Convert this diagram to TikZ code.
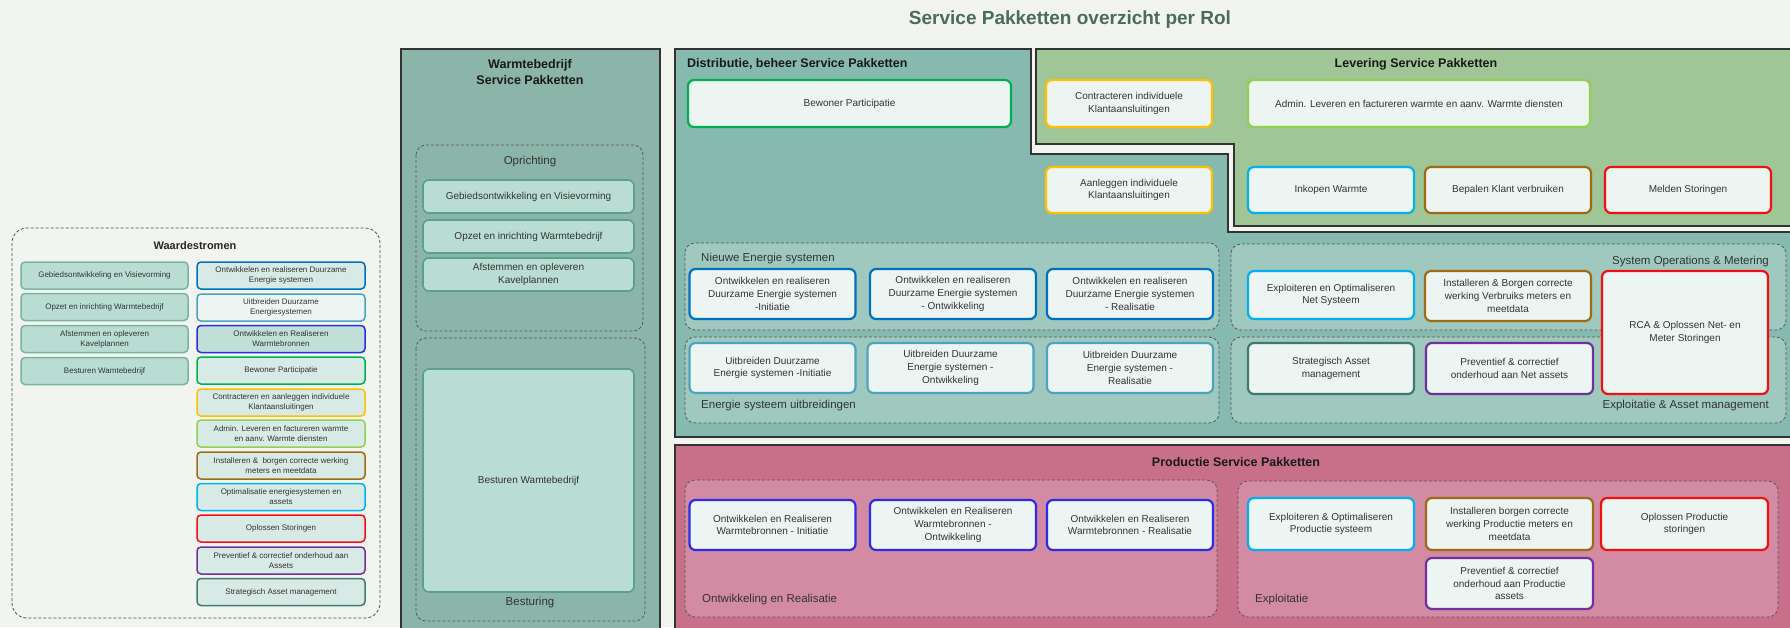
\documentclass[tikz,border=0pt]{standalone}
\usepackage{fontspec}
\setmainfont{Liberation Sans}

\definecolor{achtergrond}{HTML}{F2F5EF}
\definecolor{warmte}{HTML}{8CB5A9}
\definecolor{distr}{HTML}{87BAAF}
\definecolor{distrgroep}{HTML}{9FC9BF}
\definecolor{levering}{HTML}{A0C596}
\definecolor{productie}{HTML}{C8708B}
\definecolor{prodgroep}{HTML}{D38AA3}
\definecolor{boxwit}{HTML}{EDF5F3}
\definecolor{mint}{HTML}{BADDD3}
\definecolor{mintrand}{HTML}{5AA08A}
\definecolor{lichtmint}{HTML}{D8EAE5}
\definecolor{tekst}{HTML}{333333}
\definecolor{titelkleur}{HTML}{4B6A62}
\definecolor{cBlauw}{HTML}{0070C0}
\definecolor{cTeal}{HTML}{4BA3BE}
\definecolor{cViolet}{HTML}{2B2BE8}
\definecolor{cGroen}{HTML}{00B050}
\definecolor{cGeel}{HTML}{FFC000}
\definecolor{cLime}{HTML}{92D050}
\definecolor{cBruin}{HTML}{9E6B14}
\definecolor{cCyaan}{HTML}{00B0F0}
\definecolor{cRood}{HTML}{F01010}
\definecolor{cPaars}{HTML}{7030A0}
\definecolor{cDonker}{HTML}{3F7A6E}

\begin{document}
\begin{tikzpicture}[x=1pt,y=-1pt,
    pakket/.style={draw, line width=2.2pt, rounded corners=6pt, fill=boxwit, text=tekst,
      align=center, inner sep=1pt, minimum width=166pt, minimum height=48pt,
      font=\fontsize{10}{12.8}\selectfont},
    waarde/.style={draw, line width=1.5pt, rounded corners=4pt, fill=lichtmint, text=tekst,
      align=center, inner sep=1pt, minimum width=168pt, minimum height=27pt,
      font=\fontsize{8}{10}\selectfont},
    groep/.style={draw=black!65, dashed, dash pattern=on 3pt off 2pt, line width=0.8pt,
      rounded corners=10pt},
    rol/.style={draw=black!80, line width=1.5pt},
    groeplabel/.style={text=tekst, inner sep=0pt, font=\fontsize{11.5}{13}\selectfont},
    roltitel/.style={text=black!90, inner sep=0pt, align=center,
      font=\fontsize{12.5}{16}\selectfont\bfseries}]

  \path[use as bounding box, fill=achtergrond] (0,0) rectangle (1790,627);

  \node[text=titelkleur, font=\fontsize{19}{22}\selectfont\bfseries] (titel) at (1070,20)
    {Service Pakketten overzicht per Rol};

  % Waardestromen
  \draw[groep, draw=black!70, rounded corners=15pt] (12,228) rectangle (380,618);
  \node[font=\fontsize{11}{13}\selectfont\bfseries, text=black!85] (ws-titel) at (195,246) {Waardestromen};

  \node[waarde, fill=mint, draw=mintrand!80, minimum width=167pt] (ws-l1) at (104.5,275.5) {Gebiedsontwikkeling en Visievorming};
  \node[waarde, fill=mint, draw=mintrand!80, minimum width=167pt] (ws-l2) at (104.5,307) {Opzet en inrichting Warmtebedrijf};
  \node[waarde, fill=mint, draw=mintrand!80, minimum width=167pt] (ws-l3) at (104.5,339) {Afstemmen en opleveren\\Kavelplannen};
  \node[waarde, fill=mint, draw=mintrand!80, minimum width=167pt] (ws-l4) at (104.5,371) {Besturen Wamtebedrijf};

  \node[waarde, draw=cBlauw] (ws-r1) at (281,275.5) {Ontwikkelen en realiseren Duurzame\\Energie systemen};
  \node[waarde, draw=cTeal, fill=boxwit] (ws-r2) at (281,307.5) {Uitbreiden Duurzame\\Energiesystemen};
  \node[waarde, draw=cViolet, fill=mint!80!lichtmint] (ws-r3) at (281,339) {Ontwikkelen en Realiseren\\Warmtebronnen};
  \node[waarde, draw=cGroen] (ws-r4) at (281,370.5) {Bewoner Participatie};
  \node[waarde, draw=cGeel] (ws-r5) at (281,402.5) {Contracteren en aanleggen individuele\\Klantaansluitingen};
  \node[waarde, draw=cLime] (ws-r6) at (281,433.5) {Admin. Leveren en factureren warmte\\en aanv. Warmte diensten};
  \node[waarde, draw=cBruin] (ws-r7) at (281,465.5) {Installeren \&\ \ borgen correcte werking\\meters en meetdata};
  \node[waarde, draw=cCyaan] (ws-r8) at (281,497) {Optimalisatie energiesystemen en\\assets};
  \node[waarde, draw=cRood] (ws-r9) at (281,528.5) {Oplossen Storingen};
  \node[waarde, draw=cPaars] (ws-r10) at (281,560.5) {Preventief \& correctief onderhoud aan\\Assets};
  \node[waarde, draw=cDonker] (ws-r11) at (281,592) {Strategisch Asset management};

  % Warmtebedrijf
  \draw[rol, fill=warmte] (401,49) rectangle (660,632);
  \node[roltitel] (t-warmte) at (530,72) {Warmtebedrijf\\Service Pakketten};
  \draw[groep] (416,145) rectangle (643,331);
  \node[groeplabel] (lbl-opr) at (530,162) {Oprichting};
  \node[pakket, fill=mint, draw=mintrand, line width=1.6pt, minimum width=211pt, minimum height=33pt] (wb-1) at (528.5,196.5) {Gebiedsontwikkeling en Visievorming};
  \node[pakket, fill=mint, draw=mintrand, line width=1.6pt, minimum width=211pt, minimum height=33pt] (wb-2) at (528.5,236.5) {Opzet en inrichting Warmtebedrijf};
  \node[pakket, fill=mint, draw=mintrand, line width=1.6pt, minimum width=211pt, minimum height=33pt] (wb-3) at (528.5,274.5) {Afstemmen en opleveren\\Kavelplannen};
  \draw[groep] (416,338) rectangle (645,621);
  \node[pakket, fill=mint, draw=mintrand, line width=1.6pt, minimum width=211pt, minimum height=223pt] (wb-4) at (528.5,480.5) {Besturen Wamtebedrijf};
  \node[groeplabel] (lbl-best) at (530,603) {Besturing};

  % Distributie, beheer
  \draw[rol, fill=distr] (675,49) -- (1031,49) -- (1031,154) -- (1228,154) -- (1228,232)
    -- (1795,232) -- (1795,437) -- (675,437) -- cycle;
  \node[roltitel, anchor=west] (t-distr) at (687,64) {Distributie, beheer Service Pakketten};

  % Levering
  \draw[rol, fill=levering] (1036,49) -- (1795,49) -- (1795,226) -- (1234,226) -- (1234,144)
    -- (1036,144) -- cycle;
  \node[roltitel] (t-lev) at (1416,64) {Levering Service Pakketten};

  \node[pakket, draw=cGroen, minimum width=323pt, minimum height=47pt] (bewoner) at (849.5,103.5) {Bewoner Participatie};
  \node[pakket, draw=cGeel, minimum height=47pt] (contract) at (1129,103.5) {Contracteren individuele\\Klantaansluitingen};
  \node[pakket, draw=cGeel, minimum height=46pt] (aanleg) at (1129,190) {Aanleggen individuele\\Klantaansluitingen};
  \node[pakket, draw=cLime, minimum width=342pt, minimum height=47pt] (admin) at (1419,103.5) {Admin. Leveren en factureren warmte en aanv. Warmte diensten};
  \node[pakket, draw=cCyaan, minimum height=46pt] (inkopen) at (1331,190) {Inkopen Warmte};
  \node[pakket, draw=cBruin, minimum height=46pt] (bepalen) at (1508,190) {Bepalen Klant verbruiken};
  \node[pakket, draw=cRood, minimum height=46pt] (melden) at (1688,190) {Melden Storingen};

  % Nieuwe Energie systemen / uitbreidingen
  \draw[groep, fill=distrgroep] (685,243) rectangle (1219,330);
  \node[groeplabel, anchor=west] (lbl-nes) at (701,259) {Nieuwe Energie systemen};
  \node[pakket, draw=cBlauw, minimum height=50pt] (nes-1) at (772.5,294) {Ontwikkelen en realiseren\\Duurzame Energie systemen\\-Initiatie};
  \node[pakket, draw=cBlauw, minimum height=50pt] (nes-2) at (953,294) {Ontwikkelen en realiseren\\Duurzame Energie systemen\\- Ontwikkeling};
  \node[pakket, draw=cBlauw, minimum height=50pt] (nes-3) at (1130,294) {Ontwikkelen en realiseren\\Duurzame Energie systemen\\- Realisatie};

  \draw[groep, fill=distrgroep] (685,337) rectangle (1219,423);
  \node[groeplabel, anchor=west] (lbl-esu) at (701,406) {Energie systeem uitbreidingen};
  \node[pakket, draw=cTeal, minimum height=50pt] (esu-1) at (772.5,368) {Uitbreiden Duurzame\\Energie systemen -Initiatie};
  \node[pakket, draw=cTeal, minimum height=50pt] (esu-2) at (950.5,368) {Uitbreiden Duurzame\\Energie systemen -\\Ontwikkeling};
  \node[pakket, draw=cTeal, minimum height=50pt] (esu-3) at (1130,368) {Uitbreiden Duurzame\\Energie systemen -\\Realisatie};

  % System Operations / Exploitatie net
  \draw[groep, fill=distrgroep] (1231,244) rectangle (1786,330);
  \node[groeplabel, anchor=east] (lbl-som) at (1769,262) {System Operations \& Metering};
  \draw[groep, fill=distrgroep] (1231,337) rectangle (1786,423);
  \node[groeplabel, anchor=east] (lbl-eam) at (1769,406) {Exploitatie \& Asset management};
  \node[pakket, draw=cCyaan] (net-1) at (1331,295) {Exploiteren en Optimaliseren\\Net Systeem};
  \node[pakket, draw=cBruin, minimum height=50pt] (net-2) at (1508,296) {Installeren \& Borgen correcte\\werking Verbruiks meters en\\meetdata};
  \node[pakket, draw=cRood, minimum height=123pt] (net-rca) at (1685,332.5) {RCA \& Oplossen Net- en\\Meter Storingen};
  \node[pakket, draw=cDonker, minimum height=51pt] (net-3) at (1331,368.5) {Strategisch Asset\\management};
  \node[pakket, draw=cPaars, minimum width=167pt, minimum height=51pt] (net-4) at (1509.5,368.5) {Preventief \& correctief\\onderhoud aan Net assets};

  % Productie
  \draw[rol, fill=productie] (675,445) rectangle (1795,632);
  \node[roltitel] (t-prod) at (1236,462) {Productie Service Pakketten};

  \draw[groep, fill=prodgroep] (685,480) rectangle (1217,617);
  \node[groeplabel, anchor=west] (lbl-oer) at (702,600) {Ontwikkeling en Realisatie};
  \node[pakket, draw=cViolet, minimum height=50pt] (prd-1) at (772.5,525) {Ontwikkelen en Realiseren\\Warmtebronnen - Initiatie};
  \node[pakket, draw=cViolet, minimum height=50pt] (prd-2) at (953,525) {Ontwikkelen en Realiseren\\Warmtebronnen -\\Ontwikkeling};
  \node[pakket, draw=cViolet, minimum height=50pt] (prd-3) at (1130,525) {Ontwikkelen en Realiseren\\Warmtebronnen - Realisatie};

  \draw[groep, fill=prodgroep] (1238,481) rectangle (1778,617);
  \node[groeplabel, anchor=west] (lbl-expl) at (1255,600) {Exploitatie};
  \node[pakket, draw=cCyaan, minimum height=52pt] (prd-4) at (1331,524) {Exploiteren \& Optimaliseren\\Productie systeem};
  \node[pakket, draw=cBruin, minimum width=167pt, minimum height=52pt] (prd-5) at (1509.5,524) {Installeren borgen correcte\\werking Productie meters en\\meetdata};
  \node[pakket, draw=cRood, minimum width=167pt, minimum height=52pt] (prd-6) at (1684.5,524) {Oplossen Productie\\storingen};
  \node[pakket, draw=cPaars, minimum width=167pt, minimum height=51pt] (prd-7) at (1509.5,583.5) {Preventief \& correctief\\onderhoud aan Productie\\assets};
\end{tikzpicture}
\end{document}
